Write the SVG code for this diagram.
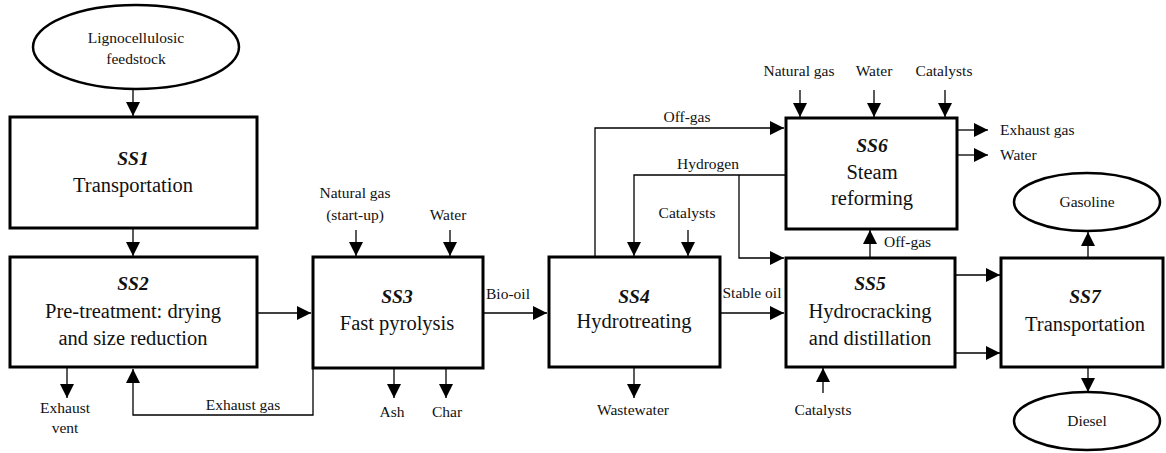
<svg xmlns="http://www.w3.org/2000/svg" width="1166" height="453" viewBox="0 0 1166 453" font-family="Liberation Serif, Times New Roman, serif">
<style>
.box{fill:#fff;stroke:#000;stroke-width:3}
.ell{fill:#fff;stroke:#000;stroke-width:2.5}
.c{fill:none;stroke:#000;stroke-width:1.3;marker-end:url(#ah)}
.t{font-family:"Liberation Serif",serif;font-size:20.5px;text-anchor:middle;fill:#111}
.h{font-family:"Liberation Serif",serif;font-size:19.5px;font-weight:bold;font-style:italic;text-anchor:middle;fill:#111}
.l{font-family:"Liberation Serif",serif;font-size:15.5px;text-anchor:middle;fill:#111}
.ls{font-family:"Liberation Serif",serif;font-size:15.5px;text-anchor:start;fill:#111}
</style>
<defs>
<marker id="ah" markerUnits="userSpaceOnUse" markerWidth="14" markerHeight="14" refX="14" refY="7" orient="auto">
<path d="M0,0 L14,7 L0,14 z" fill="#000"/>
</marker>
</defs>
<g id="connectors">
<path class="c" d="M133,90 V116"/>
<path class="c" d="M133,228 V256"/>
<path class="c" d="M257,313 H311"/>
<path class="c" d="M67,367 V398"/>
<path class="c" d="M313,367 V415 H133 V369"/>
<path class="c" d="M356,230 V256"/>
<path class="c" d="M450,230 V256"/>
<path class="c" d="M394,368 V398"/>
<path class="c" d="M446,368 V398"/>
<path class="c" d="M483,313 H547"/>
<path class="c" d="M595,257 V128 H784"/>
<path class="c" d="M786,175 H634 V256"/>
<path class="c" d="M739,175 V258 H784"/>
<path class="c" d="M688,230 V256"/>
<path class="c" d="M720,313 H784"/>
<path class="c" d="M634,367 V398"/>
<path class="c" d="M800,90 V117"/>
<path class="c" d="M874,90 V117"/>
<path class="c" d="M945,90 V117"/>
<path class="c" d="M957,130 H988"/>
<path class="c" d="M957,155 H988"/>
<path class="c" d="M870,258 V230"/>
<path class="c" d="M955,275 H1000"/>
<path class="c" d="M955,353 H1000"/>
<path class="c" d="M823,393 V368"/>
<path class="c" d="M1088,258 V232"/>
<path class="c" d="M1088,367 V392"/>
</g>
<g id="feedstock">
<ellipse class="ell" cx="136" cy="47" rx="103" ry="42"/>
<text class="l" x="136" y="43">Lignocellulosic</text>
<text class="l" x="136" y="64">feedstock</text>
</g>
<g id="SS1">
<rect class="box" x="10" y="117" width="247" height="111"/>
<text class="h" x="133" y="165">SS1</text>
<text class="t" x="133" y="192">Transportation</text>
</g>
<g id="SS2">
<rect class="box" x="10" y="257" width="247" height="110"/>
<text class="h" x="133" y="290">SS2</text>
<text class="t" x="133" y="318">Pre-treatment: drying</text>
<text class="t" x="133" y="345">and size reduction</text>
</g>
<g id="SS3">
<rect class="box" x="313" y="257" width="170" height="111"/>
<text class="h" x="397" y="303">SS3</text>
<text class="t" x="397" y="330">Fast pyrolysis</text>
</g>
<g id="SS4">
<rect class="box" x="549" y="257" width="171" height="110"/>
<text class="h" x="634" y="303">SS4</text>
<text class="t" x="634" y="328">Hydrotreating</text>
</g>
<g id="SS5">
<rect class="box" x="786" y="258" width="169" height="109"/>
<text class="h" x="870" y="290">SS5</text>
<text class="t" x="870" y="318">Hydrocracking</text>
<text class="t" x="870" y="345">and distillation</text>
</g>
<g id="SS6">
<rect class="box" x="786" y="118" width="171" height="111"/>
<text class="h" x="872" y="152">SS6</text>
<text class="t" x="872" y="179">Steam</text>
<text class="t" x="872" y="205">reforming</text>
</g>
<g id="SS7">
<rect class="box" x="1001" y="258" width="162" height="109"/>
<text class="h" x="1085" y="303">SS7</text>
<text class="t" x="1085" y="331">Transportation</text>
</g>
<g id="gasoline">
<ellipse class="ell" cx="1087" cy="202" rx="73" ry="29"/>
<text class="l" x="1087" y="207">Gasoline</text>
</g>
<g id="diesel">
<ellipse class="ell" cx="1087" cy="421" rx="73" ry="29"/>
<text class="l" x="1087" y="426">Diesel</text>
</g>
<g id="labels">
<text class="l" x="65" y="413">Exhaust</text>
<text class="l" x="65" y="433">vent</text>
<text class="l" x="243" y="410">Exhaust gas</text>
<text class="l" x="355" y="198">Natural gas</text>
<text class="l" x="355" y="220">(start-up)</text>
<text class="l" x="448" y="220">Water</text>
<text class="l" x="392" y="417">Ash</text>
<text class="l" x="447" y="417">Char</text>
<text class="l" x="508" y="299">Bio-oil</text>
<text class="l" x="687" y="122">Off-gas</text>
<text class="l" x="708" y="169">Hydrogen</text>
<text class="l" x="687" y="218">Catalysts</text>
<text class="l" x="752" y="298">Stable oil</text>
<text class="l" x="633" y="415">Wastewater</text>
<text class="l" x="799" y="76">Natural gas</text>
<text class="l" x="874" y="76">Water</text>
<text class="l" x="944" y="76">Catalysts</text>
<text class="ls" x="1000" y="135">Exhaust gas</text>
<text class="ls" x="1000" y="160">Water</text>
<text class="ls" x="884" y="247">Off-gas</text>
<text class="l" x="823" y="415">Catalysts</text>
</g>
</svg>
